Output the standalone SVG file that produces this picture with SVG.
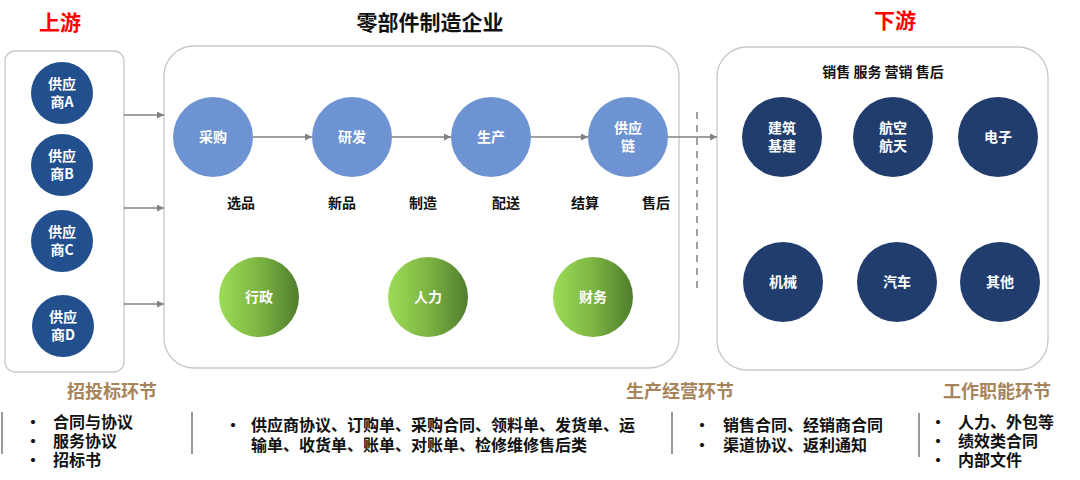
<svg xmlns="http://www.w3.org/2000/svg" width="1080" height="480" viewBox="0 0 1080 480">
<defs>
<linearGradient id="grn" x1="0" y1="0" x2="1" y2="0">
<stop offset="0" stop-color="#9CDD56"/>
<stop offset="0.5" stop-color="#7DB443"/>
<stop offset="1" stop-color="#507D2D"/>
</linearGradient>
<marker id="arr" viewBox="0 0 10 10" refX="10" refY="5" markerWidth="7" markerHeight="7" orient="auto" markerUnits="userSpaceOnUse">
<path d="M0,0 L10,5 L0,10 z" fill="#808080"/>
</marker>
<style>
text{font-family:"Noto Sans CJK SC","Liberation Sans",sans-serif;font-weight:700}
.frame{fill:#fff;stroke:#c8c8c8;stroke-width:1.3}
.sup{fill:#22508F}
.blu{fill:#6E93D3}
.nav{fill:#203D6D}
.grn{fill:url(#grn)}
.ct{fill:#fff;font-size:14px;text-anchor:middle}
.lab{fill:#111;font-size:14px;text-anchor:middle}
.ttl{font-size:21px;text-anchor:middle}
.red{fill:#FF0000}
.sec{fill:#A8845A;font-size:18px;text-anchor:middle}
.li{fill:#111;font-size:16px}
.div{stroke:#555;stroke-width:1.2}
.con{stroke:#808080;stroke-width:1.6;fill:none}
</style>
</defs>
<rect width="1080" height="480" fill="#fff"/>

<text class="ttl red" x="60" y="30">上游</text>
<text class="ttl" x="430" y="30" fill="#111">零部件制造企业</text>
<text class="ttl red" x="895" y="28">下游</text>

<rect class="frame" x="5" y="51" width="119" height="321" rx="10"/>
<rect class="frame" x="164" y="46" width="515" height="322" rx="30"/>
<rect class="frame" x="717" y="47" width="331" height="323" rx="30"/>

<g id="connectors">
<line class="con" x1="124" y1="115" x2="164" y2="115" marker-end="url(#arr)"/>
<line class="con" x1="124" y1="208" x2="164" y2="208" marker-end="url(#arr)"/>
<line class="con" x1="124" y1="304" x2="164" y2="304" marker-end="url(#arr)"/>
<line class="con" x1="253" y1="137" x2="312" y2="137" marker-end="url(#arr)"/>
<line class="con" x1="392" y1="137" x2="451" y2="137" marker-end="url(#arr)"/>
<line class="con" x1="531" y1="137" x2="588" y2="137" marker-end="url(#arr)"/>
<line class="con" x1="668" y1="137" x2="717" y2="137" marker-end="url(#arr)"/>
<line x1="697" y1="112" x2="697" y2="294" stroke="#a0a0a0" stroke-width="2" stroke-dasharray="7,6"/>
</g>

<g id="supA"><circle class="sup" cx="62" cy="93" r="31"/><text class="ct" x="62" y="89">供应</text><text class="ct" x="62" y="107">商A</text></g>
<g id="supB"><circle class="sup" cx="62" cy="165" r="31"/><text class="ct" x="62" y="161">供应</text><text class="ct" x="62" y="179">商B</text></g>
<g id="supC"><circle class="sup" cx="62" cy="241" r="31"/><text class="ct" x="62" y="237">供应</text><text class="ct" x="62" y="255">商C</text></g>
<g id="supD"><circle class="sup" cx="63" cy="326" r="31"/><text class="ct" x="63" y="322">供应</text><text class="ct" x="63" y="340">商D</text></g>

<g id="caigou"><circle class="blu" cx="213" cy="137" r="40"/><text class="ct" x="213" y="142">采购</text></g>
<g id="yanfa"><circle class="blu" cx="352" cy="137" r="40"/><text class="ct" x="352" y="142">研发</text></g>
<g id="shengchan"><circle class="blu" cx="491" cy="137" r="40"/><text class="ct" x="491" y="142">生产</text></g>
<g id="gongyinglian"><circle class="blu" cx="628" cy="137" r="40"/><text class="ct" x="628" y="133">供应</text><text class="ct" x="628" y="151">链</text></g>

<g id="steps">
<text class="lab" x="241" y="208">选品</text>
<text class="lab" x="342" y="208">新品</text>
<text class="lab" x="423" y="208">制造</text>
<text class="lab" x="506" y="208">配送</text>
<text class="lab" x="585" y="208">结算</text>
<text class="lab" x="656" y="208">售后</text>
</g>

<g id="xingzheng"><circle class="grn" cx="259" cy="297" r="40"/><text class="ct" x="259" y="302">行政</text></g>
<g id="renli"><circle class="grn" cx="428" cy="297" r="40"/><text class="ct" x="428" y="302">人力</text></g>
<g id="caiwu"><circle class="grn" cx="593" cy="297" r="40"/><text class="ct" x="593" y="302">财务</text></g>

<text class="lab" x="883" y="77">销售 服务 营销 售后</text>

<g id="jianzhu"><circle class="nav" cx="782" cy="137" r="40"/><text class="ct" x="782" y="133">建筑</text><text class="ct" x="782" y="151">基建</text></g>
<g id="hangkong"><circle class="nav" cx="893" cy="137" r="40"/><text class="ct" x="893" y="133">航空</text><text class="ct" x="893" y="151">航天</text></g>
<g id="dianzi"><circle class="nav" cx="998" cy="137" r="40"/><text class="ct" x="998" y="142">电子</text></g>
<g id="jixie"><circle class="nav" cx="783" cy="282" r="40"/><text class="ct" x="783" y="287">机械</text></g>
<g id="qiche"><circle class="nav" cx="897" cy="282" r="40"/><text class="ct" x="897" y="287">汽车</text></g>
<g id="qita"><circle class="nav" cx="1000" cy="282" r="40"/><text class="ct" x="1000" y="287">其他</text></g>

<text class="sec" x="112" y="398">招投标环节</text>
<text class="sec" x="680" y="398">生产经营环节</text>
<text class="sec" x="997" y="398">工作职能环节</text>

<line class="div" x1="2" y1="412" x2="2" y2="454"/>
<line class="div" x1="192" y1="412" x2="192" y2="454"/>
<line class="div" x1="672" y1="412" x2="672" y2="454"/>
<line class="div" x1="919" y1="413" x2="919" y2="457"/>

<g id="list1">
<text class="li" x="25" y="428">•</text><text class="li" x="53" y="428">合同与协议</text>
<text class="li" x="25" y="447">•</text><text class="li" x="53" y="447">服务协议</text>
<text class="li" x="25" y="466">•</text><text class="li" x="53" y="466">招标书</text>
</g>
<g id="list2">
<text class="li" x="225" y="431">•</text><text class="li" x="251" y="431">供应商协议、订购单、采购合同、领料单、发货单、运</text>
<text class="li" x="251" y="451">输单、收货单、账单、对账单、检修维修售后类</text>
</g>
<g id="list3">
<text class="li" x="694" y="431">•</text><text class="li" x="723" y="431">销售合同、经销商合同</text>
<text class="li" x="694" y="451">•</text><text class="li" x="723" y="451">渠道协议、返利通知</text>
</g>
<g id="list4">
<text class="li" x="930" y="428">•</text><text class="li" x="958" y="428">人力、外包等</text>
<text class="li" x="930" y="447">•</text><text class="li" x="958" y="447">绩效类合同</text>
<text class="li" x="930" y="466">•</text><text class="li" x="958" y="466">内部文件</text>
</g>
</svg>
